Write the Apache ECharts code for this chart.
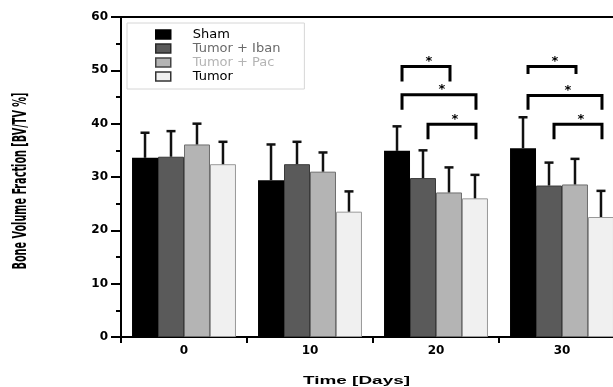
<!DOCTYPE html>
<html><head><meta charset="utf-8">
<script src="https://cdn.jsdelivr.net/npm/echarts@6/dist/echarts.min.js"></script>
<style>html,body{margin:0;padding:0;background:#fff;overflow:hidden;width:613px;height:387px}#c{width:626px;height:387px}</style>
</head><body><div id="c"></div>
<script>
// ---------- data ----------
const categories = ['0', '10', '20', '30'];
const groupNames = ['Sham', 'Tumor + Iban', 'Tumor + Pac', 'Tumor'];
const shamMean  = [33.6, 29.4, 34.9, 35.4];
const shamSD    = [4.7, 6.7, 4.6, 5.8];
const ibanMean  = [33.8, 32.4, 29.8, 28.4];
const ibanSD    = [4.8, 4.2, 5.2, 4.3];
const pacMean   = [36.1, 31.0, 27.1, 28.6];
const pacSD     = [3.9, 3.6, 4.7, 4.8];
const tumorMean = [32.4, 23.5, 26.0, 22.5];
const tumorSD   = [4.2, 3.8, 4.4, 4.9];
const yTicks = [0, 10, 20, 30, 40, 50, 60];
// significance brackets: [category, fromGroup, toGroup, bracket level, tip level]
const brackets = [
  [2, 0, 2, 50.7, 47.9],
  [2, 0, 3, 45.4, 42.6],
  [2, 1, 3, 39.9, 37.1],
  [3, 0, 2, 50.7, 49.3],
  [3, 0, 3, 45.3, 42.6],
  [3, 1, 3, 39.9, 37.1]
];
const starText = '*';
const xTitle = 'Time [Days]';
const yTitle = 'Bone Volume Fraction [BV/TV %]';

// ---------- chart ----------
const means = [shamMean, ibanMean, pacMean, tumorMean];
const sds = [shamSD, ibanSD, pacSD, tumorSD];
const fills = ['#000000', '#5a5a5a', '#b4b4b4', '#f0f0f0'];
const borders = ['#000000', '#3a3a3a', '#6e6e6e', '#999999'];
const legendText = ['#000000', '#6a6a6a', '#b4b4b4', '#000000'];
const legendBorder = ['#000000', '#2a2a2a', '#444444', '#333333'];
const CAT_GAP = 0.175;

const errData = [];
means.forEach((m, g) => m.forEach((v, c) => errData.push([c, g, v, v + sds[g][c]])));

function barCenter(api, cat, g) {
  const band = api.size([1, 0])[0];
  const bw = band * (1 - CAT_GAP) / 4;
  return api.coord([cat, 0])[0] + (g - 1.5) * bw;
}

function measure(text, font) {
  const ctx = document.createElement('canvas').getContext('2d');
  ctx.font = font;
  return ctx.measureText(text).width;
}
const yFont = 'bold 19px "Liberation Sans Narrow", "DejaVu Sans Condensed", "Liberation Sans", sans-serif';
const xFont = 'bold 11px "Liberation Sans", Arial, sans-serif';
const yScale = 177 / measure(yTitle, yFont);
const xScale = 107 / measure(xTitle, xFont);

const chart = echarts.init(document.getElementById('c'), null, {renderer: 'canvas'});
const series = groupNames.map((name, g) => ({
  name: name,
  type: 'bar',
  data: means[g],
  barGap: '0%',
  barCategoryGap: (CAT_GAP * 100) + '%',
  itemStyle: {color: fills[g], borderColor: borders[g], borderWidth: g === 0 ? 0 : 1},
  emphasis: {disabled: true},
  animation: false,
  z: 2
}));
series.push({
  type: 'custom',
  name: 'err',
  data: errData,
  animation: false,
  z: 3,
  renderItem: function (params, api) {
    const cat = api.value(0), g = api.value(1);
    const cx = barCenter(api, cat, g);
    const y1 = api.coord([cat, api.value(2)])[1];
    const y2 = api.coord([cat, api.value(3)])[1];
    const st = {stroke: '#111', lineWidth: 2.5};
    return {type: 'group', children: [
      {type: 'line', shape: {x1: cx, y1: y1, x2: cx, y2: y2}, style: st},
      {type: 'line', shape: {x1: cx - 4.5, y1: y2, x2: cx + 4.5, y2: y2}, style: st}
    ]};
  }
});
series.push({
  type: 'custom',
  name: 'sig',
  data: brackets,
  animation: false,
  z: 4,
  renderItem: function (params, api) {
    const cat = api.value(0);
    const xa = barCenter(api, cat, api.value(1)) + 5;
    const xb = barCenter(api, cat, api.value(2)) + 1;
    const yt = api.coord([cat, api.value(3)])[1];
    const yb = api.coord([cat, api.value(4)])[1];
    const st = {stroke: '#000', lineWidth: 3, fill: null, lineJoin: 'miter'};
    return {type: 'group', children: [
      {type: 'polyline', shape: {points: [[xa, yb], [xa, yt], [xb, yt], [xb, yb]]}, style: st},
      {type: 'text', x: (xa + xb) / 2 + 3, y: yt - 5,
       style: {text: starText, font: 'bold 13px "DejaVu Sans", sans-serif', fill: '#000', align: 'center', verticalAlign: 'middle'}}
    ]};
  }
});

chart.setOption({
  animation: false,
  backgroundColor: '#ffffff',
  grid: {left: 121, top: 17, bottom: 50, right: 1, containLabel: false},
  legend: {
    orient: 'vertical', left: 127, top: 23,
    backgroundColor: '#ffffff', borderColor: '#d6d6d6', borderWidth: 1,
    padding: [5, 24, 6, 28],
    itemWidth: 15, itemHeight: 9, itemGap: 1,
    selectedMode: false,
    textStyle: {fontFamily: '"DejaVu Sans", sans-serif', fontSize: 13, lineHeight: 13, padding: [0, 0, 0, 17]},
    data: groupNames.map((n, g) => ({
      name: n, icon: 'rect',
      itemStyle: {color: fills[g], borderColor: legendBorder[g], borderWidth: 1.5},
      textStyle: {color: legendText[g]}
    }))
  },
  xAxis: [{
    type: 'category', data: categories, position: 'bottom',
    axisLine: {lineStyle: {color: '#000', width: 2}},
    axisTick: {show: true, alignWithLabel: false, length: 6, lineStyle: {color: '#000', width: 2}},
    axisLabel: {color: '#000', fontFamily: '"DejaVu Sans", sans-serif', fontWeight: 'bold', fontSize: 12, margin: 8}
  }, {
    type: 'category', data: categories, position: 'top',
    axisLine: {show: true, lineStyle: {color: '#000', width: 2}},
    axisTick: {show: false}, axisLabel: {show: false}
  }],
  yAxis: {
    type: 'value', min: yTicks[0], max: yTicks[yTicks.length - 1], interval: yTicks[1] - yTicks[0],
    axisLine: {show: true, lineStyle: {color: '#000', width: 2}},
    axisTick: {show: true, length: 10, lineStyle: {color: '#000', width: 2}},
    minorTick: {show: true, splitNumber: 2, length: 5, lineStyle: {color: '#000', width: 2}},
    splitLine: {show: false},
    axisLabel: {color: '#000', fontFamily: '"DejaVu Sans", sans-serif', fontWeight: 'bold', fontSize: 12, margin: 13}
  },
  graphic: [
    {type: 'text', x: 21, y: 181, rotation: Math.PI / 2, scaleX: yScale, scaleY: 1,
     style: {text: yTitle, font: yFont, fill: '#000', align: 'center', verticalAlign: 'middle'}},
    {type: 'text', x: 356.5, y: 381, scaleX: xScale, scaleY: 1,
     style: {text: xTitle, font: xFont, fill: '#000', align: 'center', verticalAlign: 'middle'}}
  ],
  series: series
});
</script>
</body></html>
